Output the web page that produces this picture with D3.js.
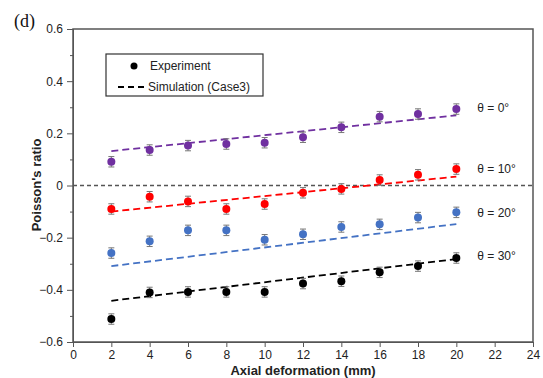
<!DOCTYPE html>
<html>
<head>
<meta charset="utf-8">
<script src="https://cdn.jsdelivr.net/npm/d3@7"></script>
<style>
  body { margin: 0; background: #fff; }
  text { font-family: "Liberation Sans", Arial, sans-serif; }
</style>
</head>
<body>
<div id="wrapper"></div>
<script>
// axial deformation (mm)
let xValues = [2, 4, 6, 8, 10, 12, 14, 16, 18, 20]

// experiment, Poisson's ratio per angle
let exp0  = [0.091, 0.136, 0.153, 0.159, 0.164, 0.185, 0.223, 0.264, 0.274, 0.293]
let exp10 = [-0.090, -0.043, -0.061, -0.090, -0.071, -0.028, -0.013, 0.021, 0.041, 0.063]
let exp20 = [-0.259, -0.214, -0.172, -0.172, -0.208, -0.187, -0.159, -0.149, -0.123, -0.103]
let exp30 = [-0.512, -0.410, -0.408, -0.408, -0.408, -0.376, -0.367, -0.333, -0.309, -0.278]
let errBar = 0.02

// simulation (Case3) end points
let simX = [2, 20]
let sim0  = [0.132, 0.269]
let sim10 = [-0.100, 0.034]
let sim20 = [-0.309, -0.148]
let sim30 = [-0.442, -0.282]

let seriesNames = ["θ = 0°", "θ = 10°", "θ = 20°", "θ = 30°"]
let seriesColors = ["#7030a0", "#ff0000", "#4472c4", "#000000"]

let xTicks = [0, 2, 4, 6, 8, 10, 12, 14, 16, 18, 20, 22, 24]
let yTicks = [-0.6, -0.4, -0.2, 0, 0.2, 0.4, 0.6]
let yMinor = [-0.5, -0.3, -0.1, 0.1, 0.3, 0.5]

function drawChart() {
    let dimensions = {
        width: 543,
        height: 378,
        margin: { top: 29, right: 10, bottom: 36, left: 73 }
    }
    let w = 533 - dimensions.margin.left
    let h = 342 - dimensions.margin.top

    let root = d3.select("#wrapper")
        .append("svg")
        .attr("width", dimensions.width)
        .attr("height", dimensions.height)

    let svg = root.append("g")
        .attr("transform", "translate(" + dimensions.margin.left + "," + dimensions.margin.top + ")")

    let x = d3.scaleLinear().domain([0, 24]).range([0, w])
    let y = d3.scaleLinear().domain([-0.6, 0.6]).range([h, 0])

    // zero line
    svg.append("line")
        .attr("x1", 0).attr("x2", w)
        .attr("y1", y(0)).attr("y2", y(0))
        .attr("stroke", "#555")
        .attr("stroke-width", 1.5)
        .attr("stroke-dasharray", "4,3")

    // axes
    svg.append("g")
        .attr("transform", "translate(0," + h + ")")
        .call(d3.axisBottom(x).tickValues(xTicks).tickSize(5).tickPadding(3).tickFormat(d3.format("d")))
    svg.append("g")
        .call(d3.axisLeft(y).tickValues(yTicks).tickSize(6).tickPadding(4).tickFormat(d => d === 0 ? "0" : d3.format(".1f")(d)))
    svg.append("g")
        .call(d3.axisLeft(y).tickValues(yMinor).tickSize(3).tickFormat(""))
        .select(".domain").remove()

    svg.selectAll(".tick text")
        .attr("font-size", 12)
        .attr("fill", "#222")
    svg.selectAll(".tick line, .domain").attr("stroke", "#555")

    // frame
    svg.append("rect")
        .attr("width", w).attr("height", h)
        .attr("fill", "none")
        .attr("stroke", "#555")
        .attr("stroke-width", 1.5)

    let expAll = [exp0, exp10, exp20, exp30]
    let simAll = [sim0, sim10, sim20, sim30]

    let line = d3.line()
        .x((d, i) => x(simX[i]))
        .y(d => y(d))

    simAll.forEach((s, k) => {
        svg.append("path")
            .datum(s)
            .attr("d", line)
            .attr("fill", "none")
            .attr("stroke", seriesColors[k])
            .attr("stroke-width", 1.8)
            .attr("stroke-dasharray", "7,4")
    })

    expAll.forEach((s, k) => {
        let g = svg.append("g")
        let pts = s.map((v, i) => ({ x: xValues[i], y: v }))
        // error bars
        g.selectAll(".err")
            .data(pts)
            .enter()
            .append("path")
            .attr("d", d => {
                let cx = x(d.x), t = y(d.y + errBar), b = y(d.y - errBar)
                return "M" + (cx - 3) + "," + t + "H" + (cx + 3) + "M" + cx + "," + t + "V" + b + "M" + (cx - 3) + "," + b + "H" + (cx + 3)
            })
            .attr("stroke", "#777")
            .attr("stroke-width", 1)
            .attr("fill", "none")
        g.selectAll("circle")
            .data(pts)
            .enter()
            .append("circle")
            .attr("cx", d => x(d.x))
            .attr("cy", d => y(d.y))
            .attr("r", 4)
            .attr("fill", seriesColors[k])
    })

    // theta labels
    let labelY = [0.296, 0.063, -0.103, -0.271]
    seriesNames.forEach((n, k) => {
        svg.append("text")
            .attr("x", x(20) + 21)
            .attr("y", y(labelY[k]))
            .attr("dy", "0.35em")
            .attr("font-size", 12)
            .attr("fill", "#222")
            .text(n)
    })

    // legend
    let lg = svg.append("g").attr("transform", "translate(" + (106 - 73) + "," + (54 - 29) + ")")
    lg.append("rect")
        .attr("width", 157).attr("height", 42)
        .attr("fill", "#fff")
        .attr("stroke", "#333")
        .attr("stroke-width", 1.2)
    lg.append("circle").attr("cx", 28).attr("cy", 12).attr("r", 3.5).attr("fill", "#000")
    lg.append("text").attr("x", 44).attr("y", 12).attr("dy", "0.35em").attr("font-size", 12).attr("fill", "#222").text("Experiment")
    lg.append("line")
        .attr("x1", 12).attr("x2", 41).attr("y1", 33).attr("y2", 33)
        .attr("stroke", "#000").attr("stroke-width", 1.8).attr("stroke-dasharray", "6,4")
    lg.append("text").attr("x", 42).attr("y", 33).attr("dy", "0.35em").attr("font-size", 12).attr("fill", "#222").text("Simulation (Case3)")

    // axis titles
    root.append("text")
        .attr("x", 303).attr("y", 375)
        .attr("text-anchor", "middle")
        .attr("font-size", 13)
        .attr("font-weight", "bold")
        .attr("fill", "#222")
        .text("Axial deformation (mm)")
    root.append("text")
        .attr("transform", "translate(41,185) rotate(-90)")
        .attr("text-anchor", "middle")
        .attr("font-size", 13)
        .attr("font-weight", "bold")
        .attr("fill", "#222")
        .text("Poisson's ratio")

    root.append("text")
        .attr("x", 14).attr("y", 27)
        .style("font-family", "'Liberation Serif', 'Times New Roman', serif")
        .attr("font-size", 18)
        .attr("fill", "#111")
        .text("(d)")
}

drawChart()
</script>
</body>
</html>
